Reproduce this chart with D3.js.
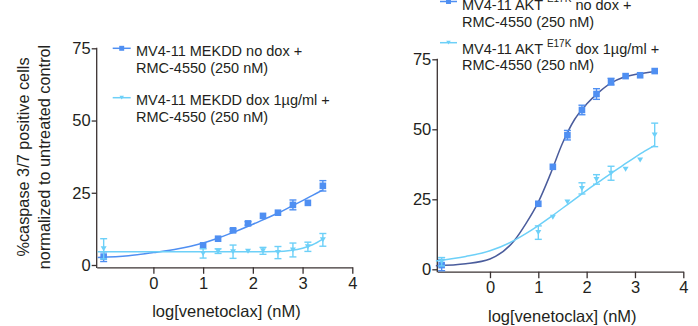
<!DOCTYPE html>
<html>
<head>
<meta charset="utf-8">
<script src="https://cdn.jsdelivr.net/npm/d3@7"></script>
<style>
  html, body { margin: 0; padding: 0; background: #ffffff; }
  svg { display: block; }
  text { font-family: "Liberation Sans", Arial, Helvetica, sans-serif; fill: #231f20; }
</style>
</head>
<body>
<svg id="chart" width="698" height="326"></svg>
<script>
// ---------- DATA ----------
const xTicks = [0, 1, 2, 3, 4];
const yTicks = [0, 25, 50, 75];
const logConc = [-1, 1, 1.301, 1.602, 1.903, 2.204, 2.505, 2.806, 3.107, 3.408];

// Left panel: MV4-11 MEKDD
const mekNoDox    = [2.9, 6.8, 9.1, 12.0, 14.4, 17.0, 18.1, 20.8, 21.5, 27.4];
const mekNoDoxErr = [1.7, 0, 0, 0.5, 0.6, 0, 0, 1.7, 0, 1.8];
const mekDox      = [5.6, 4.0, 4.8, 4.6, 4.8, 4.9, 4.3, 5.2, 6.3, 8.7];
const mekDoxErr   = [3.5, 1.6, 0.8, 2.3, 0, 1.2, 2.1, 2.4, 1.6, 2.2];

// Right panel: MV4-11 AKT E17K
const aktNoDox    = [1.5, 23.4, 36.6, 47.9, 56.9, 62.6, 67.0, 69.0, 69.3, 70.8];
const aktNoDoxErr = [2.0, 0, 0, 1.7, 1.7, 1.9, 1.2, 0, 0, 0];
const aktDox      = [2.7, 13.1, 18.6, 24.0, 28.9, 32.1, 34.3, 35.7, 39.0, 48.0];
const aktDoxErr   = [1.5, 2.4, 0, 0, 2.0, 1.7, 2.5, 0, 0, 4.2];

// Fitted curves
const fitX         = [-1.12, -0.5, 0, 0.5, 0.75, 1, 1.25, 1.5, 1.75, 2, 2.25, 2.5, 2.75, 3, 3.2, 3.4];
const mekNoDoxFit  = [2.6, 3.2, 4.3, 5.6, 6.5, 7.6, 9.0, 10.6, 12.3, 14.1, 16.0, 17.9, 20.1, 22.3, 24.1, 25.9];
const mekDoxFit    = [4.6, 4.6, 4.6, 4.6, 4.6, 4.6, 4.6, 4.6, 4.6, 4.6, 4.6, 4.65, 5.0, 5.8, 7.0, 8.9];
const aktNoDoxFit  = [1.3, 2.0, 3.7, 10.2, 16.5, 24.0, 34.0, 45.0, 53.5, 59.0, 63.2, 66.5, 68.5, 69.6, 70.1, 70.6];
const aktDoxFit    = [3.0, 4.6, 6.6, 10.3, 12.8, 15.6, 18.6, 21.8, 25.0, 28.2, 31.2, 34.2, 37.1, 40.0, 42.2, 44.2];

// Text
const yTitleLines = ["%caspase 3/7 positive cells", "normalized to untreated control"];
const xTitle = "log[venetoclax] (nM)";
const legendLeft = [
  ["MV4-11 MEKDD no dox +", "RMC-4550 (250 nM)"],
  ["MV4-11 MEKDD dox 1\u00b5g/ml +", "RMC-4550 (250 nM)"]
];
const legendRight = [
  [["MV4-11 AKT ", "E17K", " no dox +"], "RMC-4550 (250 nM)"],
  [["MV4-11 AKT ", "E17K", " dox 1\u00b5g/ml +"], "RMC-4550 (250 nM)"]
];

// ---------- STYLE ----------
const BLUE = "#4f8ff2";
const CYAN = "#6dd0f8";
const NAVY = "#4a5c9c";
const AXIS = "#3a3232";
const TICK_FONT = 16.5;

const svg = d3.select("#chart");

function drawPanel(cfg) {
  const x = d3.scaleLinear().domain(cfg.xDomain).range(cfg.xRange);
  const y = d3.scaleLinear().domain([0, 75]).range(cfg.yRange);
  const g = svg.append("g");
  const axisY = cfg.xAxisY;

  // Y axis
  const ya = g.append("g").attr("transform", `translate(${cfg.xRange[0]},0)`)
    .call(d3.axisLeft(y).tickValues(yTicks).tickSize(5).tickPadding(1).tickFormat(d3.format("d")));
  ya.select(".domain").remove();
  ya.selectAll("line").attr("stroke", AXIS).attr("stroke-width", 1.3);
  ya.selectAll("text").style("font-size", TICK_FONT + "px").attr("fill", "#231f20");
  g.append("line").attr("x1", cfg.xRange[0]).attr("x2", cfg.xRange[0])
    .attr("y1", y(75) - 0.6).attr("y2", axisY + 0.6)
    .attr("stroke", AXIS).attr("stroke-width", 1.3);

  // X axis
  const xa = g.append("g").attr("transform", `translate(0,${axisY})`)
    .call(d3.axisBottom(x).tickValues(xTicks).tickSize(6.5).tickPadding(3.3).tickSizeOuter(0).tickFormat(d3.format("d")));
  xa.select(".domain").attr("stroke", AXIS).attr("stroke-width", 1.3);
  xa.selectAll("line").attr("stroke", AXIS).attr("stroke-width", 1.3);
  xa.selectAll("text").style("font-size", TICK_FONT + "px").attr("fill", "#231f20");

  // X title
  g.append("text").attr("x", (cfg.xRange[0] + cfg.xRange[1]) / 2 + 2).attr("y", axisY + 50)
    .attr("text-anchor", "middle").style("font-size", "16.5px").text(xTitle);

  const line = d3.line().x((d, i) => x(fitX[i])).y(d => y(d)).curve(d3.curveMonotoneX);

  cfg.series.forEach(s => {
    // fitted curve
    g.append("path").datum(s.fit).attr("d", line)
      .attr("fill", "none").attr("stroke", s.curveColor).attr("stroke-width", 1.5);
    // error bars
    s.values.forEach((v, i) => {
      const e = s.errs[i];
      if (!e) return;
      const cx = x(logConc[i]);
      const eg = g.append("g").attr("stroke", s.color).attr("stroke-width", 1.4);
      eg.append("line").attr("x1", cx).attr("x2", cx).attr("y1", y(v - e)).attr("y2", y(v + e));
      eg.append("line").attr("x1", cx - 3.5).attr("x2", cx + 3.5).attr("y1", y(v - e)).attr("y2", y(v - e));
      eg.append("line").attr("x1", cx - 3.5).attr("x2", cx + 3.5).attr("y1", y(v + e)).attr("y2", y(v + e));
    });
    // markers
    s.values.forEach((v, i) => {
      drawMarker(g, s.shape, x(logConc[i]), y(v), s.color, 1);
    });
  });

  // legend
  cfg.legend.forEach((L, k) => {
    const sy = L.symY;
    g.append("line").attr("x1", L.symX0).attr("x2", L.symX1).attr("y1", sy).attr("y2", sy)
      .attr("stroke", cfg.series[k].color).attr("stroke-width", 1.5);
    drawMarker(g, cfg.series[k].shape, (L.symX0 + L.symX1) / 2, sy, cfg.series[k].color, 0.75);
    const t1 = g.append("text").attr("x", L.textX).attr("y", L.base1).style("font-size", "14.5px");
    if (Array.isArray(L.line1)) {
      t1.append("tspan").text(L.line1[0]);
      t1.append("tspan").attr("dy", -7.6).style("font-size", "10px").text(L.line1[1]);
      t1.append("tspan").attr("dy", 7.6).text(L.line1[2]);
    } else {
      t1.text(L.line1);
    }
    g.append("text").attr("x", L.textX).attr("y", L.base2).style("font-size", "14.5px").text(L.line2);
  });
}

function drawMarker(g, shape, cx, cy, color, scale) {
  if (shape === "square") {
    const s = 6.6 * scale;
    g.append("rect").attr("x", cx - s / 2).attr("y", cy - s / 2).attr("width", s).attr("height", s)
      .attr("fill", color);
  } else {
    const w = 6 * scale, h = 5 * scale;
    g.append("path")
      .attr("d", `M${cx - w / 2},${cy - h / 2}L${cx + w / 2},${cy - h / 2}L${cx},${cy + h / 2}Z`)
      .attr("fill", color);
  }
}

// Y-axis title (left panel only)
yTitleLines.forEach((t, i) => {
  svg.append("text")
    .attr("transform", `translate(${29 + i * 20.5},157) rotate(-90)`)
    .attr("text-anchor", "middle").style("font-size", "16.3px").text(t);
});

drawPanel({
  xDomain: [-1.14, 4], xRange: [96.7, 352.3], yRange: [265, 48.3], xAxisY: 267.3,
  series: [
    { values: mekNoDox, errs: mekNoDoxErr, fit: mekNoDoxFit, color: BLUE, curveColor: BLUE, shape: "square" },
    { values: mekDox, errs: mekDoxErr, fit: mekDoxFit, color: CYAN, curveColor: CYAN, shape: "triangle" }
  ],
  legend: [
    { symX0: 112.7, symX1: 130.7, symY: 48.3, textX: 136, base1: 56, base2: 72.5, line1: legendLeft[0][0], line2: legendLeft[0][1] },
    { symX0: 112.7, symX1: 130.7, symY: 97.7, textX: 136, base1: 105.3, base2: 121.6, line1: legendLeft[1][0], line2: legendLeft[1][1] }
  ]
});

drawPanel({
  xDomain: [-1.09, 4], xRange: [437.3, 683.3], yRange: [269.3, 59.3], xAxisY: 271.7,
  series: [
    { values: aktNoDox, errs: aktNoDoxErr, fit: aktNoDoxFit, color: BLUE, curveColor: NAVY, shape: "square" },
    { values: aktDox, errs: aktDoxErr, fit: aktDoxFit, color: CYAN, curveColor: CYAN, shape: "triangle" }
  ],
  legend: [
    { symX0: 440, symX1: 457, symY: 1.5, textX: 462, base1: 10, base2: 26.7, line1: legendRight[0][0], line2: legendRight[0][1] },
    { symX0: 440, symX1: 457, symY: 42.7, textX: 462, base1: 54.3, base2: 70.2, line1: legendRight[1][0], line2: legendRight[1][1] }
  ]
});
</script>
</body>
</html>
